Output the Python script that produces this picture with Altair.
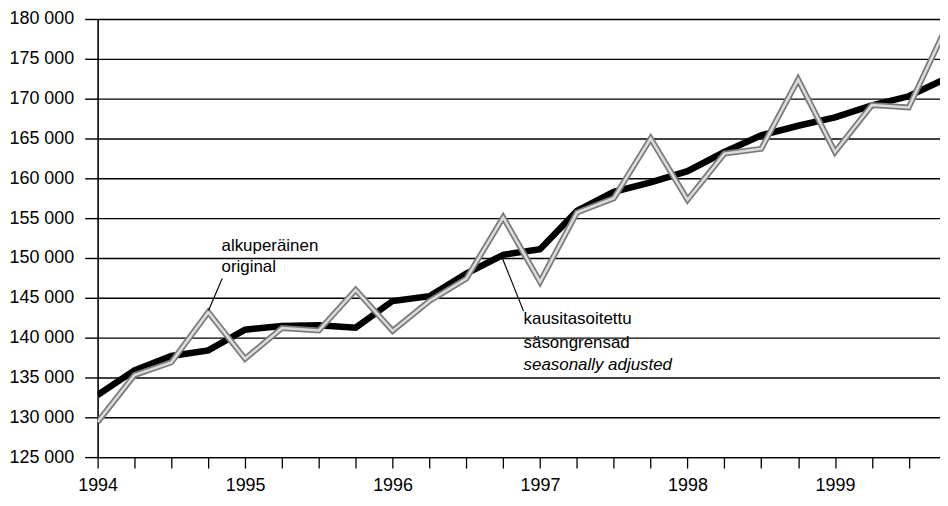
import altair as alt
import pandas as pd

# quarterly time points (1994 Q1 ... 1999 Q4)
quarters = [1994.0, 1994.25, 1994.5, 1994.75,
            1995.0, 1995.25, 1995.5, 1995.75,
            1996.0, 1996.25, 1996.5, 1996.75,
            1997.0, 1997.25, 1997.5, 1997.75,
            1998.0, 1998.25, 1998.5, 1998.75,
            1999.0, 1999.25, 1999.5, 1999.75]

# alkuperäinen / original
original = [129400, 135300, 136900, 143200,
            137350, 141200, 140900, 146000,
            140850, 144600, 147400, 155100,
            147000, 155700, 157500, 165000,
            157300, 163100, 163700, 172400,
            163300, 169200, 168900, 178800]

# kausitasoitettu / säsongrensad / seasonally adjusted
adjusted = [132800, 135900, 137700, 138400,
            141000, 141450, 141550, 141250,
            144600, 145200, 148050, 150400,
            151100, 155900, 158300, 159500,
            160900, 163300, 165400, 166600,
            167650, 169150, 170300, 172500]

x_ticks = [1994.0, 1994.25, 1994.5, 1994.75, 1995.0, 1995.25, 1995.5, 1995.75,
           1996.0, 1996.25, 1996.5, 1996.75, 1997.0, 1997.25, 1997.5, 1997.75,
           1998.0, 1998.25, 1998.5, 1998.75, 1999.0, 1999.25, 1999.5]
y_ticks = [125000, 130000, 135000, 140000, 145000, 150000,
           155000, 160000, 165000, 170000, 175000, 180000]

# annotation labels (anchored in data units)
label_text = ["alkuperäinen", "original", "kausitasoitettu", "säsongrensad"]
label_x = [1994.84, 1994.84, 1996.888, 1996.888]
label_y = [150870, 148270, 141720, 138750]
italic_text = ["seasonally adjusted"]
italic_x = [1996.888]
italic_y = [135910]

leader_x = [1994.845, 1996.746]
leader_y = [147440, 149910]
leader_x2 = [1994.752, 1996.888]
leader_y2 = [143400, 143330]

FONT = "Liberation Sans, Arial, sans-serif"

df = pd.DataFrame({"t": quarters, "original": original, "adjusted": adjusted})
lab = pd.DataFrame({"x": label_x, "y": label_y, "text": label_text})
ital = pd.DataFrame({"x": italic_x, "y": italic_y, "text": italic_text})
lead = pd.DataFrame({"x": leader_x, "y": leader_y, "x2": leader_x2, "y2": leader_y2})

xscale = alt.Scale(domain=[1994, 1999.712], nice=False, zero=False)
yscale = alt.Scale(domain=[125000, 180000], nice=False, zero=False)

xaxis = alt.Axis(values=x_ticks, tickCount=40,
                 labelExpr="datum.value % 1 == 0 ? format(datum.value, 'd') : ''",
                 grid=False, tickSize=11, tickColor="black", tickWidth=1.3,
                 domain=True, domainColor="black", domainWidth=1.5,
                 labelFont=FONT, labelFontSize=18, labelColor="black",
                 labelPadding=9, labelFlush=False, labelOverlap=False, title=None)
yaxis = alt.Axis(values=y_ticks, tickCount=40,
                 labelExpr="format(datum.value / 1000, 'd') + ' 000'",
                 grid=True, gridColor="black", gridWidth=1.4, gridOpacity=1,
                 tickSize=13, tickColor="black", tickWidth=1.4,
                 domain=True, domainColor="black", domainWidth=1.6,
                 labelFont=FONT, labelFontSize=18, labelColor="black",
                 labelPadding=11, labelOverlap=False, title=None)

base = alt.Chart(df)

black = base.mark_line(color="black", strokeWidth=6.5, clip=True,
                       strokeJoin="miter", strokeCap="butt").encode(
    x=alt.X("t:Q", scale=xscale, axis=xaxis),
    y=alt.Y("adjusted:Q", scale=yscale, axis=yaxis))

gray_outer = base.mark_line(color="#7a7a7a", strokeWidth=6, clip=True,
                            strokeJoin="miter").encode(
    x=alt.X("t:Q", scale=xscale), y=alt.Y("original:Q", scale=yscale))
gray_inner = base.mark_line(color="#dcdcdc", strokeWidth=2.5, clip=True,
                            strokeJoin="miter").encode(
    x=alt.X("t:Q", scale=xscale), y=alt.Y("original:Q", scale=yscale))

leaders = alt.Chart(lead).mark_rule(color="black", strokeWidth=1.2).encode(
    x=alt.X("x:Q", scale=xscale), y=alt.Y("y:Q", scale=yscale),
    x2="x2:Q", y2="y2:Q")

labels = alt.Chart(lab).mark_text(align="left", baseline="alphabetic",
                                  font=FONT, fontSize=17, color="black").encode(
    x=alt.X("x:Q", scale=xscale), y=alt.Y("y:Q", scale=yscale), text="text:N")
italics = alt.Chart(ital).mark_text(align="left", baseline="alphabetic",
                                    font=FONT, fontSize=17, fontStyle="italic",
                                    color="black").encode(
    x=alt.X("x:Q", scale=xscale), y=alt.Y("y:Q", scale=yscale), text="text:N")

chart = alt.layer(black, gray_outer, gray_inner, leaders, labels, italics).properties(
    width=846, height=440,
    autosize="none",
    padding={"left": 90, "top": 10, "right": 0, "bottom": 40},
    background="white",
).configure_view(stroke=None)

chart.save("out.html", embed_options={"renderer": "svg", "actions": False})
